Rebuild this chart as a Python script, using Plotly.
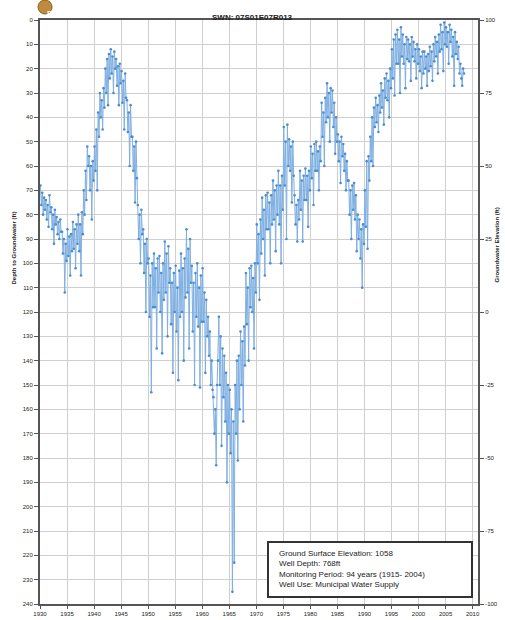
import plotly.graph_objects as go

# Depth-to-groundwater readings (ft), six per year from 1930
start_year = 1930
readings_per_year = 6
depth_ft = [
    68, 76, 71, 80, 73, 78,   74, 82, 76, 85, 72, 79,   77, 86, 80, 92, 78, 84,
    81, 88, 83, 90, 82, 87,   87, 96, 90, 112, 92, 99,  86, 97, 89, 105, 88, 95,
    83, 94, 86, 102, 84, 92,  80, 95, 84, 105, 79, 88,  70, 80, 62, 74, 52, 60,
    56, 70, 60, 82, 58, 66,   52, 62, 45, 70, 38, 48,   30, 40, 33, 45, 28, 36,
    20, 30, 16, 35, 14, 24,   12, 22, 15, 30, 13, 20,   16, 27, 19, 35, 18, 26,
    21, 34, 25, 45, 22, 32,   33, 46, 38, 60, 35, 48,   48, 62, 52, 75, 50, 65,
    76, 90, 80, 100, 78, 88,  86, 104, 92, 120, 90, 100,
    98, 122, 105, 153, 100, 118,  96, 118, 102, 135, 98, 112,
    97, 120, 104, 137, 100, 115,  91, 112, 96, 130, 93, 108,
    102, 125, 108, 145, 104, 120, 101, 128, 110, 148, 103, 122,
    96, 120, 102, 140, 98, 114,   86, 112, 94, 135, 90, 108,
    101, 128, 108, 150, 104, 122, 100, 126, 110, 151, 105, 124,
    102, 124, 112, 145, 115, 130, 122, 138, 128, 150, 140, 152,
    155, 170, 160, 183, 150, 140, 122, 150, 130, 175, 135, 155,
    138, 165, 145, 190, 150, 170, 152, 178, 160, 235, 165, 223,
    150, 170, 140, 181, 138, 160, 128, 150, 132, 165, 126, 142,
    104, 125, 110, 140, 102, 118, 101, 120, 106, 135, 100, 112,
    84, 100, 88, 115, 82, 96,   73, 90, 78, 105, 72, 86,   71, 86, 75, 100, 72, 84,
    66, 82, 70, 95, 68, 80,     62, 84, 68, 100, 64, 78,  44, 68, 50, 90, 43, 60,
    49, 62, 52, 75, 50, 64,     72, 84, 76, 91, 74, 82,   62, 78, 66, 91, 64, 74,
    61, 74, 64, 85, 62, 70,     52, 65, 55, 76, 51, 62,   50, 62, 54, 70, 52, 58,
    34, 48, 38, 60, 32, 42,     26, 40, 30, 50, 28, 38,   29, 44, 34, 55, 40, 50,
    47, 58, 50, 67, 48, 56,     51, 62, 55, 70, 58, 66,   66, 80, 70, 90, 68, 78,
    67, 82, 72, 95, 80, 90,     82, 98, 86, 110, 84, 92,  70, 85, 58, 94, 56, 66,
    48, 58, 40, 60, 36, 44,     32, 42, 35, 46, 31, 38,   26, 36, 29, 43, 24, 32,
    22, 33, 25, 40, 20, 28,     12, 24, 8, 31, 6, 18,     4, 18, 8, 30, 3, 15,
    6, 18, 10, 28, 7, 16,       8, 17, 10, 25, 7, 15,     9, 17, 12, 24, 10, 18,
    12, 21, 15, 28, 13, 22,     13, 20, 15, 27, 14, 21,   11, 19, 13, 25, 10, 17,
    7, 15, 9, 22, 6, 13,        2, 12, 5, 21, 1, 10,      3, 11, 5, 18, 2, 9,
    4, 15, 7, 27, 5, 14,        9, 16, 11, 22, 18, 24,    27, 20, 22,
]
dates = [start_year + (i + 0.5) / readings_per_year for i in range(len(depth_ft))]

year_ticks = list(range(1930, 2011, 5))
depth_ticks = list(range(0, 241, 10))
elev_ticks = [100, 75, 50, 25, 0, -25, -50, -75, -100]

title_text = "SWN: 07S01E07R013"
info_lines = [
    "Ground Surface Elevation: 1058",
    "Well Depth: 768ft",
    "Monitoring Period: 94 years (1915- 2004)",
    "Well Use: Municipal Water Supply",
]

FONT = "Arial, Liberation Sans, sans-serif"
LINE_BLUE = "#7fb0e2"
MARK_BLUE = "#4d8ccf"
AX = "#555555"

fig = go.Figure()
fig.add_trace(go.Scatter(
    x=dates, y=depth_ft, mode="lines+markers",
    line=dict(color=LINE_BLUE, width=1),
    marker=dict(color=MARK_BLUE, size=2.6),
    showlegend=False, hoverinfo="skip",
))
fig.add_trace(go.Scatter(x=[], y=[], yaxis="y2", showlegend=False))

# pixel -> paper helpers (plot area x 40..478, y 20..604)
L, R, T, B = 40, 478, 20, 604
def px(x):
    return (x - L) / (R - L)
def py(y):
    return (B - y) / (B - T)

fig.update_layout(
    width=505, height=620,
    margin=dict(l=L, r=505 - R, t=T, b=620 - B, autoexpand=False),
    paper_bgcolor="white", plot_bgcolor="white",
    font=dict(family=FONT, size=6, color="#222"),
    xaxis=dict(
        range=[1930, 2011], tickvals=year_ticks, ticktext=[str(v) for v in year_ticks],
        showgrid=True, gridcolor="#cfcfcf", gridwidth=1, automargin=False,
        showline=True, linecolor=AX, linewidth=2, mirror=True,
        ticks="outside", ticklen=3, tickcolor=AX, zeroline=False,
        tickfont=dict(size=6),
    ),
    yaxis=dict(
        range=[240, 0], tickvals=depth_ticks, ticktext=[str(v) for v in depth_ticks],
        showgrid=True, gridcolor="#cfcfcf", gridwidth=1, automargin=False,
        showline=True, linecolor=AX, linewidth=2, mirror=True,
        ticks="outside", ticklen=4, tickcolor=AX, zeroline=False,
        tickfont=dict(size=6),
    ),
    yaxis2=dict(
        range=[-100, 100], overlaying="y", side="right", automargin=False,
        tickvals=elev_ticks, ticktext=[str(v) for v in elev_ticks],
        showgrid=False, zeroline=False, showline=True, linecolor=AX, linewidth=2,
        ticks="outside", ticklen=4, tickcolor=AX, tickfont=dict(size=6),
    ),
)

# title
fig.add_annotation(x=px(252), y=py(11), xref="paper", yref="paper",
                   text="<b>" + title_text + "</b>", showarrow=False,
                   font=dict(size=8, color="#222"))
# axis titles
fig.add_annotation(x=px(9), y=py(210), xref="paper", yref="paper",
                   text="<b>Depth to Groundwater (ft)</b>", textangle=-90,
                   showarrow=False, font=dict(size=6, color="#222"))
fig.add_annotation(x=px(501), y=py(205), xref="paper", yref="paper",
                   text="<b>Groundwater Elevation (ft)</b>", textangle=-90,
                   showarrow=False, font=dict(size=6, color="#222"))

# badge "F"
fig.add_shape(type="circle", xref="paper", yref="paper",
              x0=px(38), x1=px(52), y0=py(14), y1=py(0),
              fillcolor="#c08a3e", line=dict(color="#8a5e22", width=1))
fig.add_annotation(x=px(45), y=py(7), xref="paper", yref="paper",
                   text="<b>F</b>", showarrow=False,
                   font=dict(size=8, color="white"))

# info box
fig.add_shape(type="rect", xref="paper", yref="paper",
              x0=px(268), x1=px(472), y0=py(597), y1=py(542),
              fillcolor="white", line=dict(color="#333", width=2))
fig.add_annotation(x=px(277), y=py(569), xref="paper", yref="paper",
                   xanchor="left", yanchor="middle", align="left",
                   text="<br>".join(info_lines), showarrow=False,
                   font=dict(size=8, color="#222"))

fig.write_html("out.html", config={"displayModeBar": False},
               post_script="document.body.style.margin='0';")
